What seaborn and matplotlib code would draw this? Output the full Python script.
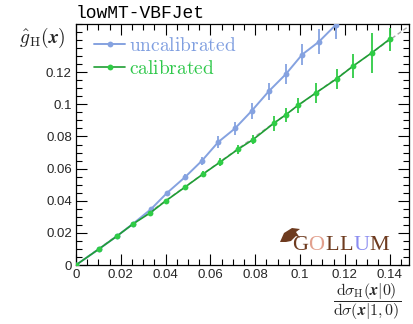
import matplotlib
matplotlib.use("Agg")
import matplotlib.pyplot as plt
import seaborn as sns
import pandas as pd
from matplotlib.ticker import MultipleLocator, FuncFormatter
from matplotlib.patches import Polygon

# ---- data ----
unc_x = [0.0, 0.0103, 0.0183, 0.0255, 0.0335, 0.0406, 0.0487, 0.0563, 0.0635,
         0.0710, 0.0785, 0.0860, 0.0937, 0.1010, 0.1085, 0.1160]
unc_y = [0.0, 0.0100, 0.0180, 0.0257, 0.0348, 0.0448, 0.0547, 0.0650, 0.0765,
         0.0850, 0.0960, 0.1080, 0.1188, 0.1310, 0.1390, 0.1495]
unc_err = [0.0, 0.0003, 0.0005, 0.0007, 0.0009, 0.0012, 0.0018, 0.0025, 0.0035,
           0.0038, 0.0050, 0.0050, 0.0060, 0.0066, 0.0078, 0.0090]

cal_x = [0.0, 0.0103, 0.0183, 0.0254, 0.0330, 0.0400, 0.0487, 0.0567, 0.0643,
         0.0723, 0.0790, 0.0884, 0.0937, 0.0990, 0.1070, 0.1165, 0.1237, 0.1320, 0.1400]
cal_y = [0.0, 0.0100, 0.0180, 0.0255, 0.0323, 0.0398, 0.0485, 0.0566, 0.0640,
         0.0720, 0.0780, 0.0883, 0.0935, 0.0993, 0.1070, 0.1160, 0.1238, 0.1320, 0.1405]
cal_err = [0.0, 0.0003, 0.0005, 0.0006, 0.0008, 0.0010, 0.0014, 0.0020, 0.0026,
           0.0030, 0.0028, 0.0047, 0.0043, 0.0045, 0.0062, 0.0062, 0.0073, 0.0124, 0.0070]

series_labels = ["uncalibrated", "calibrated"]
title_text = "lowMT-VBFJet"
x_ticks = [0, 0.02, 0.04, 0.06, 0.08, 0.1, 0.12, 0.14]
y_ticks = [0, 0.02, 0.04, 0.06, 0.08, 0.1, 0.12]
logo_letters = ["G", "O", "L", "L", "U", "M"]

blue = "#85a2e0"
blue_txt = "#7f9ee0"
green_line = "#1f9e34"
green_bar = "#2fcc45"
green_txt = "#2ec84a"
brown = "#6e3b1f"
logo_colors = [brown, "#e2a08e", brown, brown, "#8b8cf0", brown]

sns.set_theme(style="ticks")
plt.rcParams["font.family"] = ["Liberation Sans", "DejaVu Sans"]
plt.rcParams["mathtext.fontset"] = "cm"

W, H = 413, 324
fig = plt.figure(figsize=(W / 100, H / 100), dpi=100)
ax = fig.add_axes([76 / W, 1 - 265 / H, (409 - 76) / W, (265 - 24) / H])

xmax, ymax = 0.1487, 0.15

# diagonal reference
diag = pd.DataFrame({"x": [0, ymax], "y": [0, ymax]})
ax.plot(diag["x"], diag["y"], ls=(0, (3, 2)), color="#a8a8a8", lw=1.0, zorder=1)

df_u = pd.DataFrame({"x": unc_x, "y": unc_y, "e": unc_err})
df_c = pd.DataFrame({"x": cal_x, "y": cal_y, "e": cal_err})

ax.errorbar(df_u["x"], df_u["y"], yerr=df_u["e"], fmt="none", ecolor=blue,
            elinewidth=1.3, capsize=0, zorder=2)
sns.lineplot(data=df_u, x="x", y="y", ax=ax, color=blue, lw=1.4, marker="o",
             markersize=4.2, markeredgewidth=0, errorbar=None, sort=False,
             label=r"$\mathrm{" + series_labels[0] + "}$", zorder=3)

ax.errorbar(df_c["x"], df_c["y"], yerr=df_c["e"], fmt="none", ecolor=green_bar,
            elinewidth=1.3, capsize=0, zorder=4)
sns.lineplot(data=df_c, x="x", y="y", ax=ax, color=green_line, lw=1.2, marker="o",
             markersize=4.2, markeredgewidth=0, markerfacecolor=green_bar,
             errorbar=None, sort=False,
             label=r"$\mathrm{" + series_labels[1] + "}$", zorder=5)

ax.set_xlim(0, xmax)
ax.set_ylim(0, ymax)
ax.set_xlabel("")
ax.set_ylabel("")

fmt = FuncFormatter(lambda v, p: "%g" % round(v, 4))
ax.set_xticks(x_ticks)
ax.set_yticks(y_ticks)
ax.xaxis.set_major_formatter(fmt)
ax.yaxis.set_major_formatter(fmt)
ax.xaxis.set_minor_locator(MultipleLocator(0.005))
ax.yaxis.set_minor_locator(MultipleLocator(0.005))
ax.tick_params(which="both", direction="in", top=True, right=True,
               color="black", width=0.8)
ax.tick_params(which="major", length=8, labelsize=9.5, pad=3)
ax.tick_params(which="minor", length=4)
for s in ax.spines.values():
    s.set_color("black")
    s.set_linewidth(0.9)

leg = ax.legend(loc="upper left", bbox_to_anchor=(0.055, 0.945), frameon=False,
                fontsize=14, handlelength=1.6, handletextpad=0.2,
                labelspacing=0.22, borderpad=0, borderaxespad=0)
for t, c in zip(leg.get_texts(), [blue_txt, green_txt]):
    t.set_color(c)

# title
ax.text(0.0, 1.0 + 6 / 241, title_text, transform=ax.transAxes, ha="left",
        va="baseline", fontsize=13, family=["Liberation Mono", "DejaVu Sans Mono"],
        color="black")

# axis labels (ROOT style)
fig.text(66 / W, 1 - 38 / H, r"$\hat{g}_{\mathrm{H}}(\boldsymbol{x})$",
         ha="right", va="center", fontsize=14)
fig.text(333 / W, 1 - 302 / H,
         r"$\dfrac{\mathrm{d}\sigma_{\mathrm{H}}(\boldsymbol{x}|\mathbf{0})}{\mathrm{d}\sigma(\boldsymbol{x}|1,\mathbf{0})}$",
         ha="left", va="center", fontsize=11.5)

# GOLLUM logo: letters placed one after another
serif = ["Liberation Serif", "DejaVu Serif"]
renderer = fig.canvas.get_renderer()
px = 292.0
for ch, col in zip(logo_letters, logo_colors):
    t = fig.text(px / W, 1 - 250 / H, ch, ha="left", va="baseline", fontsize=16,
                 family=serif, color=col)
    bb = t.get_window_extent(renderer)
    px = bb.x1 + 0.5
hat = Polygon([[280, 242], [284, 233], [292, 228], [300, 229], [296, 232],
               [300, 238], [296, 236], [291, 241], [286, 242]],
              closed=True, facecolor=brown, edgecolor="none", transform=None)
hat.set_xy([[x, H - y] for x, y in hat.get_xy()])
fig.patches.append(hat)

fig.savefig("out.png", dpi=100)
